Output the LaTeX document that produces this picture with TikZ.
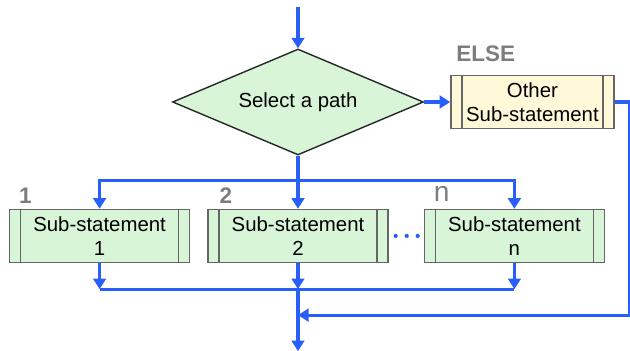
\documentclass[tikz,border=0pt]{standalone}
\usepackage{fontspec}
\setmainfont{Liberation Sans}
\usepackage{xcolor}
\usetikzlibrary{positioning, arrows.meta, shapes.geometric}

\definecolor{flowblue}{RGB}{40,95,250}
\definecolor{mint}{RGB}{216,245,216}
\definecolor{cream}{RGB}{255,249,218}
\definecolor{taggray}{RGB}{125,125,125}

\begin{document}
\begin{tikzpicture}[
    every node/.style={font=\fontsize{14.5}{17}\selectfont},
    decision/.style={diamond, aspect=2.4, draw=black!85, line width=1pt, fill=mint, minimum width=6.275cm, minimum height=2.65cm, inner sep=0pt},
    sub/.style={draw=black!60, line width=1pt, fill=#1, minimum width=4.5cm, minimum height=1.325cm, inner sep=0pt, align=center,
      path picture={
        \draw[black!60, line width=1pt] ([xshift=0.275cm]path picture bounding box.north west) -- ([xshift=0.275cm]path picture bounding box.south west);
        \draw[black!60, line width=1pt] ([xshift=-0.275cm]path picture bounding box.north east) -- ([xshift=-0.275cm]path picture bounding box.south east);
      }},
    tag/.style={text=taggray, inner sep=0pt, font=\fontsize{16}{16}\selectfont\bfseries},
    flow/.style={draw=flowblue, line width=2.2pt},
    arrow/.style={flow, -{Triangle[length=7.5pt, width=9pt]}},
    dots/.style={draw=flowblue, line width=3pt, line cap=round, dash pattern=on 0pt off 0.275cm, shorten <=0.175cm, shorten >=0.14cm},
  ]
  \useasboundingbox (0,0) rectangle (15.75,-8.775);

  % --- Decision ---
  \node[decision] (sel) at (7.45,-2.55) {Select a path};
  \node[sub=cream, right=0.65cm of sel, minimum width=4.075cm] (other) {Other\\Sub-statement};

  % --- Sub-statements ---
  \node[sub=mint, below=1.325cm of sel] (sub2) {Sub-statement\\2};
  \node[sub=mint, left=0.425cm of sub2] (sub1) {Sub-statement\\1};
  \node[sub=mint, right=0.875cm of sub2] (subn) {Sub-statement\\n};

  % --- Tags ---
  \node[tag, above right=0.33cm and 0.15cm of other.north west] (else) {ELSE};
  \node[tag, above right=0.13cm and 0.25cm of sub1.north west] (t1) {1};
  \node[tag, above right=0.13cm and 0.3cm of sub2.north west] (t2) {2};
  \node[tag, above right=0.18cm and 0.25cm of subn.north west, font=\fontsize{20}{20}\selectfont] (tn) {n};

  % --- Helper points ---
  \coordinate[above=1.025cm of sel.north] (in);
  \coordinate[below=0.625cm of sel.south] (split);
  \coordinate[below=0.65cm of sub2.south] (join);
  \coordinate[below=1.3cm of sub2.south] (back);
  \coordinate[below=2.2cm of sub2.south] (out);

  % --- Arrows ---
  \draw[arrow] (in) -- (sel.north);
  \draw[arrow] (sel.east) -- (other.west);

  \draw[arrow] (sel.south) -- (sub2.north);
  \draw[arrow] (split) -| (sub1.north);
  \draw[arrow] (split) -| (subn.north);

  \draw[arrow] (sub1.south) -- (sub1.south |- join);
  \draw[arrow] (sub2.south) -- (join);
  \draw[arrow] (subn.south) -- (subn.south |- join);
  \draw[flow] (sub1.south |- join) -- (subn.south |- join);

  \draw[arrow] (join) -- (out);
  \draw[arrow] (other.east) -- ++(0.375,0) |- (back);

  \draw[dots] (sub2.east) -- (subn.west);

\end{tikzpicture}
\end{document}
